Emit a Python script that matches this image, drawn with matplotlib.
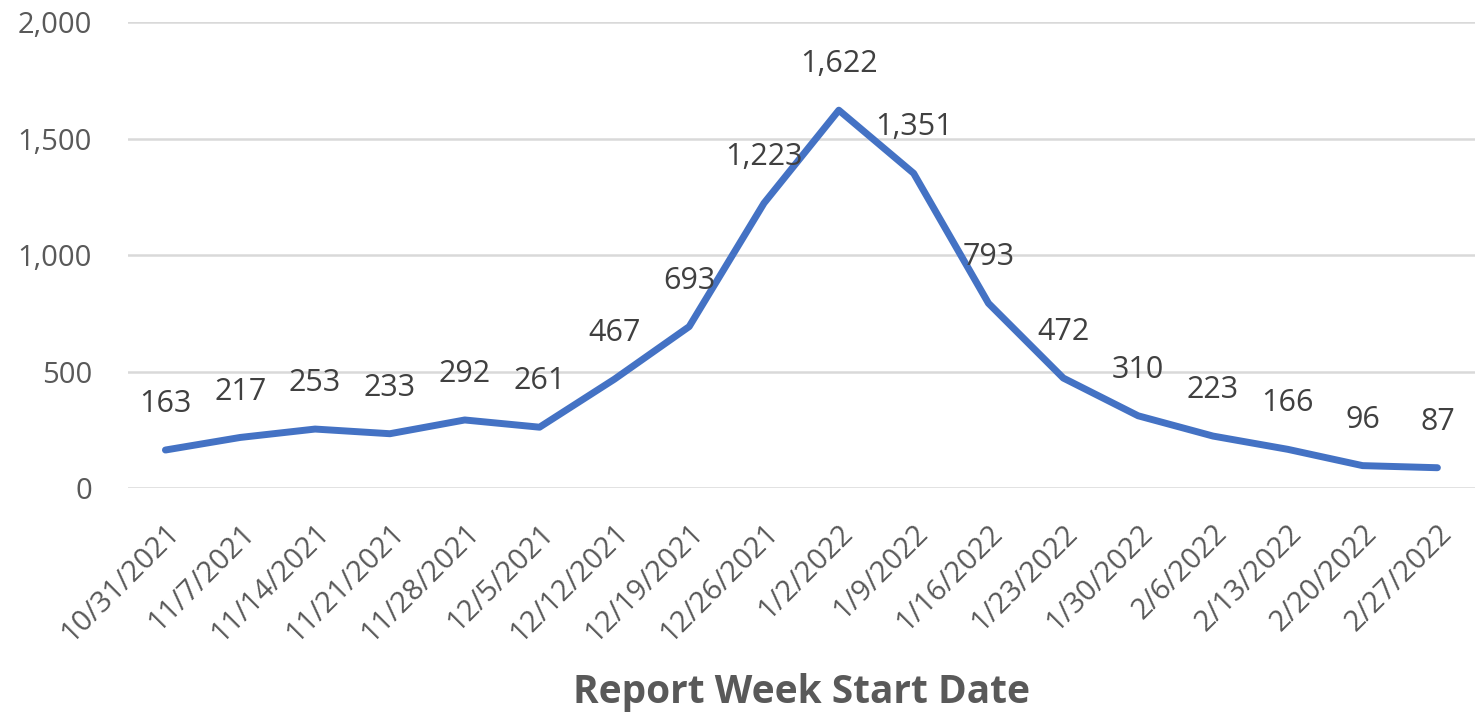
import matplotlib
matplotlib.use("Agg")
from matplotlib import pyplot as plt
from matplotlib.ticker import FuncFormatter

weeks = ['10/31/2021', '11/7/2021', '11/14/2021', '11/21/2021', '11/28/2021',
         '12/5/2021', '12/12/2021', '12/19/2021', '12/26/2021', '1/2/2022',
         '1/9/2022', '1/16/2022', '1/23/2022', '1/30/2022', '2/6/2022',
         '2/13/2022', '2/20/2022', '2/27/2022']
counts = [163, 217, 253, 233, 292, 261, 467, 693, 1223, 1622,
          1351, 793, 472, 310, 223, 166, 96, 87]

plt.rcParams['font.family'] = ['Open Sans', 'DejaVu Sans']

fig = plt.figure(figsize=(14.8, 7.15), dpi=100)
ax = fig.add_axes([0.0865, 0.3175, 0.91, 0.6515])

x = list(range(len(weeks)))
ax.plot(x, counts, color='#4472C4', linewidth=5, solid_capstyle='round',
        solid_joinstyle='round', zorder=3)

for xi, v in zip(x, counts):
    ax.annotate(f'{v:,}', (xi, v), xytext=(0, 33), textcoords='offset points',
                ha='center', va='center', fontsize=22, color='#404040', zorder=4)

ax.set_xlim(-0.5, len(weeks) - 0.5)
ax.set_ylim(0, 2000)
ax.set_yticks([0, 500, 1000, 1500, 2000])
ax.yaxis.set_major_formatter(FuncFormatter(lambda v, p: f'{int(v):,}'))
ax.grid(axis='y', color='#d9d9d9', linewidth=1.8, zorder=0)
ax.set_xticks(x)
ax.set_xticklabels(weeks, rotation=45, ha='right', rotation_mode='anchor')

for s in ax.spines.values():
    s.set_visible(False)
ax.tick_params(axis='both', length=0, labelsize=21, colors='#595959')
ax.tick_params(axis='y', pad=26)
ax.tick_params(axis='x', pad=22)

ax.set_xlabel('Report Week Start Date', fontsize=28, fontweight='bold',
              color='#595959', labelpad=18)

fig.savefig('out.png', dpi=100)
